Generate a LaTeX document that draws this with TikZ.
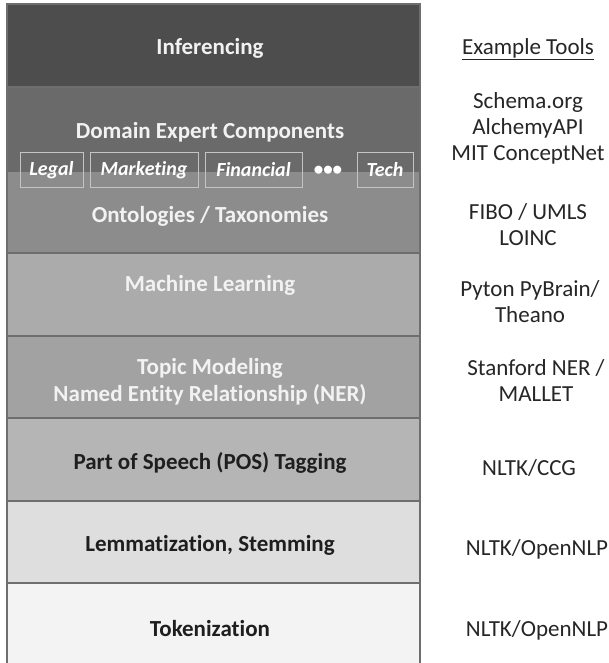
\documentclass[tikz,border=0pt]{standalone}
\usepackage{fontspec}
\setmainfont{Carlito}[Ligatures=NoCommon]
\definecolor{cinf}{HTML}{4D4D4D}
\definecolor{cdom}{HTML}{6A6A6A}
\definecolor{conto}{HTML}{8C8C8C}
\definecolor{cml}{HTML}{ABABAB}
\definecolor{ctop}{HTML}{A2A2A2}
\definecolor{cpos}{HTML}{B5B5B5}
\definecolor{clem}{HTML}{DEDEDE}
\definecolor{ctok}{HTML}{F3F3F3}
\definecolor{bordergray}{HTML}{6E6E6E}
\definecolor{boxgray}{HTML}{C4C4C4}
\definecolor{lighttext}{HTML}{F2F2F2}
\definecolor{darktext}{HTML}{1E1E1E}
\definecolor{tooltext}{HTML}{262626}
\begin{document}
\begin{tikzpicture}[x=1pt,y=-1pt,
  band/.style={inner sep=0pt, outer sep=0pt, minimum width=413pt, anchor=north west},
  layer/.style={band, draw=bordergray, line width=1.6pt},
  lbl/.style={font=\bfseries\fontsize{23}{27}\selectfont, align=center, inner sep=0pt},
  lbllight/.style={lbl, text=lighttext},
  lbldark/.style={lbl, text=darktext},
  tool/.style={font=\fontsize{23}{26}\selectfont, align=center, text=tooltext, inner sep=0pt},
  dombox/.style={draw=boxgray, line width=1pt, font=\bfseries\itshape\fontsize{20}{22}\selectfont, text=white, inner sep=0pt, minimum height=34pt}]
\useasboundingbox (0,0) rectangle (609,663);
\fill[white] (0,0) rectangle (609,663);
% layers
\node[layer, fill=cinf, minimum height=83pt] (inf) at (7,4) {};
\node[band, fill=cdom, minimum height=85pt] (dom) at (7,87) {};
\node[band, fill=conto, minimum height=81pt] (onto) at (7,172) {};
\draw[bordergray, line width=1.6pt] (dom.north west) rectangle (onto.south east);
\node[layer, fill=cml, minimum height=83pt] (ml) at (7,253) {};
\node[layer, fill=ctop, minimum height=82pt] (top) at (7,336) {};
\node[layer, fill=cpos, minimum height=83pt] (pos) at (7,418) {};
\node[layer, fill=clem, minimum height=82pt] (lem) at (7,501) {};
\node[layer, fill=ctok, minimum height=90pt] (tok) at (7,583) {};
% labels
\node[lbllight] (tinf) at (210,48) {Inferencing};
\node[lbllight] (tdom) at (210,132) {Domain Expert Components};
\node[lbllight] (tonto) at (210,216) {Ontologies / Taxonomies};
\node[lbllight] (tml) at (210,285) {Machine Learning};
\node[lbllight] (ttop) at (210,382) {Topic Modeling\\Named Entity Relationship (NER)};
\node[lbldark] (tpos) at (210,463) {Part of Speech (POS) Tagging};
\node[lbldark] (tlem) at (210,545) {Lemmatization, Stemming};
\node[lbldark] (ttok) at (210,629) {Tokenization};
% domain boxes
\node[dombox, minimum width=63pt] (legal) at (51.5,170) {Legal};
\node[dombox, minimum width=108pt] (mkt) at (144,170) {Marketing};
\node[dombox, minimum width=97pt] (fin) at (253.5,170) {Financial};
\node[font=\bfseries\fontsize{19}{20}\selectfont, text=white, inner sep=0pt] (dots) at (328,171) {\textbullet\textbullet\textbullet};
\node[dombox, minimum width=56pt] (tech) at (385,170) {Tech};
% tools
\node[tool] (ex) at (528,49) {\underline{Example Tools}};
\node[tool] (t1) at (528,128) {Schema.org\\AlchemyAPI\\MIT ConceptNet};
\node[tool] (t2) at (528,225) {FIBO / UMLS\\LOINC};
\node[tool] (t3) at (530,302) {Pyton PyBrain/\\Theano};
\node[tool] (t4) at (536,381) {Stanford NER /\\MALLET};
\node[tool] (t5) at (529,468) {NLTK/CCG};
\node[tool] (t6) at (537,549) {NLTK/OpenNLP};
\node[tool] (t7) at (537,630) {NLTK/OpenNLP};
\end{tikzpicture}
\end{document}
